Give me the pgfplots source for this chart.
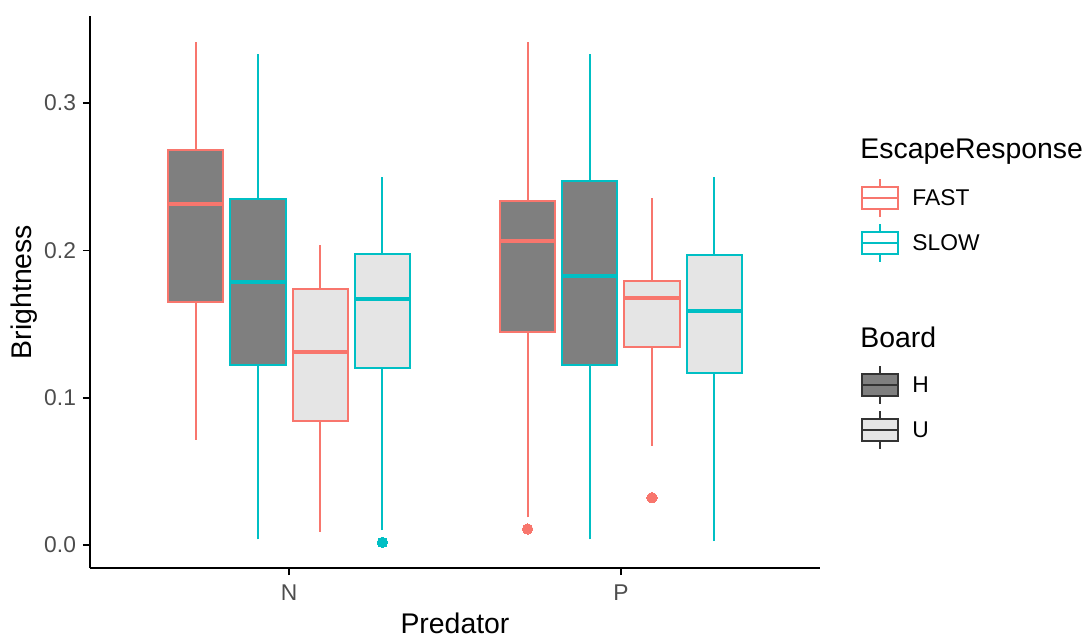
\documentclass[border=0pt]{standalone}
\usepackage{pgfplots}
\pgfplotsset{compat=1.18}
\usepackage{fontspec}
\setmainfont{Liberation Sans}

\definecolor{fastc}{HTML}{F8766D}
\definecolor{slowc}{HTML}{00BFC4}
\definecolor{hfill}{HTML}{7F7F7F}
\definecolor{ufill}{HTML}{E5E5E5}
\definecolor{tickc}{HTML}{4D4D4D}
\definecolor{keyc}{HTML}{333333}

\newcommand{\ticksize}{\fontsize{11.4}{13}\selectfont}
\newcommand{\titlesize}{\fontsize{14.2}{16}\selectfont}

\pgfplotsset{
  whisk/.style={draw=#1, line width=1pt, unbounded coords=jump},
  boxr/.style 2 args={draw=#1, fill=#2, line width=1pt, line join=miter},
  med/.style={draw=#1, line width=2pt},
  outl/.style={only marks, mark=*, mark size=2.6pt, mark options={fill=#1, draw=#1, line width=0pt}},
}

\begin{document}
\begin{tikzpicture}
\path[use as bounding box] (-45pt,-35.5pt) rectangle (500.5pt,284pt);
\begin{axis}[
  at={(0,0)}, anchor=south west,
  scale only axis, width=365pt, height=276pt,
  xmin=0.4, xmax=2.6, ymin=-0.0156, ymax=0.3591,
  axis x line*=bottom, axis y line*=left,
  axis line style={black, line width=1pt, -},
  tick align=outside, major tick length=3.5pt,
  tick style={black, line width=0.8pt},
  xtick={1,2}, xticklabels={N,P},
  ytick={0,0.1,0.2,0.3}, yticklabels={0.0,0.1,0.2,0.3},
  ticklabel style={font=\ticksize, text=tickc},
  xticklabel style={yshift=-1.5pt},
  xlabel={Predator}, ylabel={Brightness},
  every axis x label/.style={at={(axis description cs:0.5,0)}, anchor=base, yshift=-32.5pt, font=\titlesize},
  every axis y label/.style={at={(axis description cs:-0.0904,0.5)}, rotate=90, anchor=center, font=\titlesize},
]
% ---- Predator N ----
% FAST, board H: whiskers 0.0713/0.3415, box 0.165-0.268, median 0.2317
\addplot[whisk=fastc] coordinates {(0.71875,0.0713) (0.71875,0.165) (0.71875,nan) (0.71875,0.268) (0.71875,0.3415)};
\addplot[boxr={fastc}{hfill}] coordinates {(0.63575,0.165) (0.80175,0.165) (0.80175,0.268) (0.63575,0.268)} -- cycle;
\addplot[med=fastc] coordinates {(0.63575,0.2317) (0.80175,0.2317)};
% SLOW, board H
\addplot[whisk=slowc] coordinates {(0.90625,0.0039) (0.90625,0.1222) (0.90625,nan) (0.90625,0.235) (0.90625,0.333)};
\addplot[boxr={slowc}{hfill}] coordinates {(0.82325,0.1222) (0.98925,0.1222) (0.98925,0.235) (0.82325,0.235)} -- cycle;
\addplot[med=slowc] coordinates {(0.82325,0.1788) (0.98925,0.1788)};
% FAST, board U
\addplot[whisk=fastc] coordinates {(1.09375,0.009) (1.09375,0.0842) (1.09375,nan) (1.09375,0.1736) (1.09375,0.2037)};
\addplot[boxr={fastc}{ufill}] coordinates {(1.01075,0.0842) (1.17675,0.0842) (1.17675,0.1736) (1.01075,0.1736)} -- cycle;
\addplot[med=fastc] coordinates {(1.01075,0.1308) (1.17675,0.1308)};
% SLOW, board U
\addplot[whisk=slowc] coordinates {(1.28125,0.0102) (1.28125,0.12) (1.28125,nan) (1.28125,0.1976) (1.28125,0.250)};
\addplot[boxr={slowc}{ufill}] coordinates {(1.19825,0.12) (1.36425,0.12) (1.36425,0.1976) (1.19825,0.1976)} -- cycle;
\addplot[med=slowc] coordinates {(1.19825,0.1668) (1.36425,0.1668)};
% ---- Predator P ----
% FAST, board H
\addplot[whisk=fastc] coordinates {(1.71875,0.0188) (1.71875,0.1448) (1.71875,nan) (1.71875,0.2337) (1.71875,0.3413)};
\addplot[boxr={fastc}{hfill}] coordinates {(1.63575,0.1448) (1.80175,0.1448) (1.80175,0.2337) (1.63575,0.2337)} -- cycle;
\addplot[med=fastc] coordinates {(1.63575,0.2066) (1.80175,0.2066)};
% SLOW, board H
\addplot[whisk=slowc] coordinates {(1.90625,0.0039) (1.90625,0.1222) (1.90625,nan) (1.90625,0.2471) (1.90625,0.3333)};
\addplot[boxr={slowc}{hfill}] coordinates {(1.82325,0.1222) (1.98925,0.1222) (1.98925,0.2471) (1.82325,0.2471)} -- cycle;
\addplot[med=slowc] coordinates {(1.82325,0.1828) (1.98925,0.1828)};
% FAST, board U
\addplot[whisk=fastc] coordinates {(2.09375,0.0674) (2.09375,0.1342) (2.09375,nan) (2.09375,0.1792) (2.09375,0.2354)};
\addplot[boxr={fastc}{ufill}] coordinates {(2.01075,0.1342) (2.17675,0.1342) (2.17675,0.1792) (2.01075,0.1792)} -- cycle;
\addplot[med=fastc] coordinates {(2.01075,0.1679) (2.17675,0.1679)};
% SLOW, board U
\addplot[whisk=slowc] coordinates {(2.28125,0.0027) (2.28125,0.117) (2.28125,nan) (2.28125,0.1969) (2.28125,0.250)};
\addplot[boxr={slowc}{ufill}] coordinates {(2.19825,0.117) (2.36425,0.117) (2.36425,0.1969) (2.19825,0.1969)} -- cycle;
\addplot[med=slowc] coordinates {(2.19825,0.1589) (2.36425,0.1589)};
% ---- outliers ----
\addplot[outl=fastc] coordinates {(1.71875,0.0109) (2.09375,0.0321)};
\addplot[outl=slowc] coordinates {(1.28125,0.0018)};
\end{axis}

% legend keys
\newcommand{\keyglyph}[3]{%
  \draw[#1, line width=0.6pt] (395pt,#3+9.5pt) -- (395pt,#3+5.5pt);
  \draw[#1, line width=0.6pt] (395pt,#3-5.5pt) -- (395pt,#3-9.5pt);
  \filldraw[draw=#1, fill=#2, line width=0.6pt] (386pt,#3-5.5pt) rectangle (404pt,#3+5.5pt);
  \draw[#1, line width=0.6pt] (386pt,#3) -- (404pt,#3);
}
\node[anchor=base west, font=\titlesize, inner sep=0pt] at (385pt,205pt) {EscapeResponse};
\keyglyph{fastc}{white}{185pt}
\node[anchor=west, font=\ticksize, inner sep=0pt] at (411pt,185pt) {FAST};
\keyglyph{slowc}{white}{162.5pt}
\node[anchor=west, font=\ticksize, inner sep=0pt] at (411pt,162.5pt) {SLOW};
\node[anchor=base west, font=\titlesize, inner sep=0pt] at (385pt,110.5pt) {Board};
\keyglyph{keyc}{hfill}{91.5pt}
\node[anchor=west, font=\ticksize, inner sep=0pt] at (411pt,91.5pt) {H};
\keyglyph{keyc}{ufill}{69pt}
\node[anchor=west, font=\ticksize, inner sep=0pt] at (411pt,69pt) {U};
\end{tikzpicture}
\end{document}
